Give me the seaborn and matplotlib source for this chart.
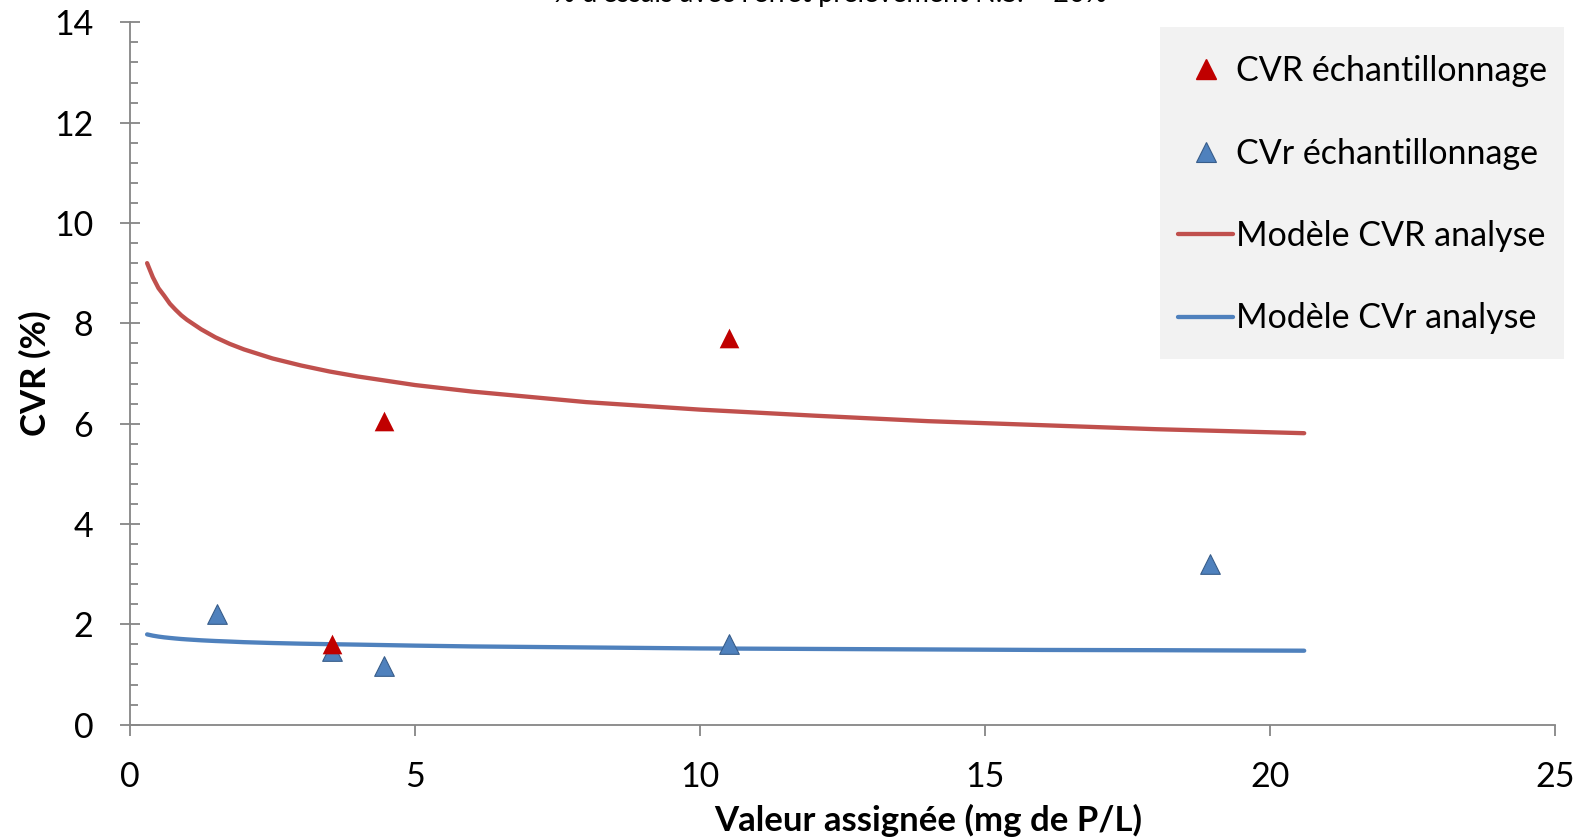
import matplotlib
matplotlib.use("Agg")
import matplotlib.pyplot as plt
from matplotlib.lines import Line2D
from matplotlib.patches import Rectangle
from matplotlib.ticker import MultipleLocator
import seaborn as sns
import pandas as pd

# Sampling CV measurements (assigned value in mg P/L)
conc_cvr_ech = [3.55, 4.45, 10.5]
cvr_ech = [1.6, 6.05, 7.7]

conc_cvr_rep = [1.53, 3.55, 4.45, 10.5, 18.95]
cvr_rep = [2.2, 1.47, 1.17, 1.6, 3.2]

# Analytical model curves
conc_model = [0.3, 0.4, 0.5, 0.6, 0.7, 0.8, 0.9, 1.0, 1.25, 1.5, 1.75, 2.0, 2.5, 3.0,
              3.5, 4.0, 5.0, 6.0, 8.0, 10.0, 12.0, 14.0, 16.0, 18.0, 20.6]
cvr_model = [9.20, 8.92, 8.70, 8.55, 8.39, 8.27, 8.16, 8.07, 7.88, 7.72, 7.59, 7.48,
             7.30, 7.16, 7.04, 6.94, 6.77, 6.64, 6.43, 6.28, 6.16, 6.05, 5.97, 5.89, 5.81]
cvr_rep_model = [1.800, 1.775, 1.756, 1.741, 1.729, 1.718, 1.708, 1.700, 1.682, 1.668,
                 1.657, 1.645, 1.628, 1.615, 1.605, 1.596, 1.576, 1.56, 1.54, 1.52,
                 1.51, 1.50, 1.49, 1.485, 1.475]

x_ticks = [0, 5, 10, 15, 20, 25]
y_ticks = [0, 2, 4, 6, 8, 10, 12, 14]

title_text = "% d'essais avec l'effet prélèvement N.S. = 20%"
x_label = "Valeur assignée (mg de P/L)"
y_label = "CVR (%)"
legend_labels = ["CVR échantillonnage", "CVr échantillonnage",
                 "Modèle CVR analyse", "Modèle CVr analyse"]

RED_LINE = "#C0504D"
BLUE_LINE = "#4F81BD"
RED_MARK = "#C00000"
BLUE_MARK = "#4F81BD"
BLUE_EDGE = "#385D8A"
AXIS_GREY = "#868686"
LEGEND_BG = "#F2F2F2"

sns.set_theme(style="white")
plt.rcParams["font.family"] = ["Lato", "DejaVu Sans"]

W, H = 1589, 838
fig = plt.figure(figsize=(W / 100, H / 100), dpi=100)
ax = fig.add_axes([130 / W, 1 - 724.7 / H, (1555 - 130) / W, (724.7 - 22.3) / H])
ax.set_facecolor("none")

# Grey legend panel, drawn behind the axes content
fig.patches.append(Rectangle((1160 / W, 1 - 358.8 / H), (1564 - 1160) / W,
                             (358.8 - 27.4) / H, transform=fig.transFigure,
                             facecolor=LEGEND_BG, edgecolor="none", zorder=-1))

models = pd.DataFrame({"x": conc_model, "cvr": cvr_model, "cvr_rep": cvr_rep_model})
sns.lineplot(data=models, x="x", y="cvr", ax=ax, color=RED_LINE, linewidth=3.1,
             solid_capstyle="round", solid_joinstyle="round", zorder=2)
sns.lineplot(data=models, x="x", y="cvr_rep", ax=ax, color=BLUE_LINE, linewidth=3.1,
             solid_capstyle="round", solid_joinstyle="round", zorder=2)

sns.scatterplot(x=conc_cvr_rep, y=cvr_rep, ax=ax, marker="^", s=200,
                color=BLUE_MARK, edgecolor=BLUE_EDGE, linewidth=0.8, zorder=3)
sns.scatterplot(x=conc_cvr_ech, y=cvr_ech, ax=ax, marker="^", s=200,
                color=RED_MARK, edgecolor=RED_MARK, linewidth=0, zorder=4)

ax.set_xlim(0, 25)
ax.set_ylim(0, 14)
ax.set_xticks(x_ticks)
ax.set_yticks(y_ticks)
ax.yaxis.set_minor_locator(MultipleLocator(0.4))

for side in ("top", "right"):
    ax.spines[side].set_visible(False)
for side in ("left", "bottom"):
    ax.spines[side].set_color(AXIS_GREY)
    ax.spines[side].set_linewidth(1.3)

ax.tick_params(axis="y", which="major", direction="inout", length=15, width=1.3,
               color=AXIS_GREY, labelsize=24.5, labelcolor="black", pad=19, left=True)
ax.tick_params(axis="y", which="minor", direction="in", length=6, width=1.3,
               color=AXIS_GREY, left=True)
ax.tick_params(axis="x", which="major", direction="out", length=8, width=1.3,
               color=AXIS_GREY, labelsize=24.5, labelcolor="black", pad=18, bottom=True)

ax.set_xlabel(x_label, fontsize=25, fontweight="bold", color="black")
ax.set_ylabel(y_label, fontsize=25, fontweight="bold", color="black")
ax.xaxis.set_label_coords((928 - 130) / (1555 - 130), -(804 - 724.7) / (724.7 - 22.3))
ax.yaxis.set_label_coords(-(130 - 52) / (1555 - 130), 0.5)

fig.text(830 / W, 1 - 2 / H, title_text, ha="center", va="baseline",
         fontsize=19.6, color="black")

handles = [
    Line2D([], [], linestyle="none", marker="^", markersize=14,
           markerfacecolor=RED_MARK, markeredgecolor=RED_MARK),
    Line2D([], [], linestyle="none", marker="^", markersize=14,
           markerfacecolor=BLUE_MARK, markeredgecolor=BLUE_EDGE, markeredgewidth=0.8),
    Line2D([], [], color=RED_LINE, linewidth=3.1, solid_capstyle="round"),
    Line2D([], [], color=BLUE_LINE, linewidth=3.1, solid_capstyle="round"),
]
leg = ax.legend(handles, legend_labels, loc="upper left",
                bbox_to_anchor=(1178 / W, 1 - 55.4 / H),
                bbox_transform=fig.transFigure,
                fontsize=24.5, frameon=False, borderaxespad=0, borderpad=0,
                labelspacing=1.48, handlelength=1.62, handletextpad=0.08)
for t in leg.get_texts():
    t.set_color("black")

fig.savefig("out.png", dpi=100, facecolor="white")
